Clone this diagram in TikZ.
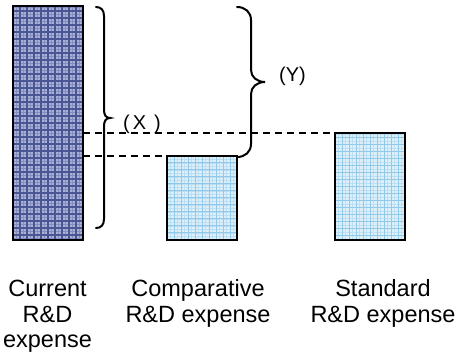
\documentclass[tikz,border=0pt]{standalone}
\usepackage{fontspec}
\setmainfont{Liberation Sans}
\definecolor{darkfill}{HTML}{AAB1D6}
\definecolor{darkline}{HTML}{4A5693}
\definecolor{darkmid}{HTML}{838DBE}
\definecolor{lightfill}{HTML}{DDF0FA}
\definecolor{lightline}{HTML}{92C8E8}
\definecolor{lightmid}{HTML}{BCDFF3}
\tikzset{
  barframe/.style={draw=black, line width=2pt, inner sep=0pt, outer sep=0pt},
  darkbar/.style={barframe, fill=darkfill,
    path picture={
      \draw[darkmid, line width=0.6pt, step=3.5pt]
        (path picture bounding box.south west) grid (path picture bounding box.north east);
      \draw[darkline, line width=1.1pt, step=7pt]
        (path picture bounding box.south west) grid (path picture bounding box.north east);
    }},
  lightbar/.style={barframe, fill=lightfill,
    path picture={
      \draw[lightmid, line width=0.6pt, step=3.5pt]
        (path picture bounding box.south west) grid (path picture bounding box.north east);
      \draw[lightline, line width=1pt, step=7pt]
        (path picture bounding box.south west) grid (path picture bounding box.north east);
    }},
  dashline/.style={line width=1.5pt, dash pattern=on 7pt off 5pt},
  bracepath/.style={line width=2pt, line cap=round},
  caption/.style={font=\fontsize{23.5}{25.5}\selectfont, align=center, inner sep=0pt, anchor=base},
  marker/.style={font=\fontsize{20}{22}\selectfont, inner sep=0pt},
}
\begin{document}
\begin{tikzpicture}[x=1pt, y=-1pt]
  \useasboundingbox (0,0) rectangle (459,358);

  % the three bars
  \node[darkbar, minimum width=70pt, minimum height=234pt, anchor=north west] (cur) at (13,6) {};
  \node[lightbar, minimum width=70pt, minimum height=84pt, anchor=north west] (cmp) at (167,156) {};
  \node[lightbar, minimum width=70pt, minimum height=107pt, anchor=north west] (std) at (335,133) {};

  % reference levels
  \draw[dashline] (cur.east |- std.north west) -- ([xshift=33pt]std.north west);
  \draw[dashline] (cur.east |- cmp.north west) -- (cmp.north west);

  % brace (X) beside the current bar
  \draw[bracepath] (96,7) .. controls (101,7) and (104,10) .. (104,16) -- (104,110)
    .. controls (104,115) and (106,118) .. (110,118)
    .. controls (106,118) and (104,121) .. (104,126) -- (104,219)
    .. controls (104,225) and (101,228) .. (96,228);
  \node[marker] (xlab) at (142,124.5) {(\hspace{3pt}X\hspace{8pt})};

  % brace (Y) above the comparative bar
  \draw[bracepath] (237,7) .. controls (245,7) and (251,12) .. (251,20) -- (251,70)
    .. controls (251,77) and (257,82) .. (265,82)
    .. controls (257,82) and (251,87) .. (251,94) -- (251,144)
    .. controls (251,152) and (245,157) .. (237,157);
  \node[marker] (ylab) at (292.5,76) {(Y)};

  % captions (anchored at the baseline of their last line)
  \node[caption] (capcur) at (47.5,348) {Current\\R\&D\\expense};
  \node[caption] (capcmp) at (198,322.5) {Comparative\\R\&D expense};
  \node[caption] (capstd) at (383,322.5) {Standard\\R\&D expense};
\end{tikzpicture}
\end{document}
